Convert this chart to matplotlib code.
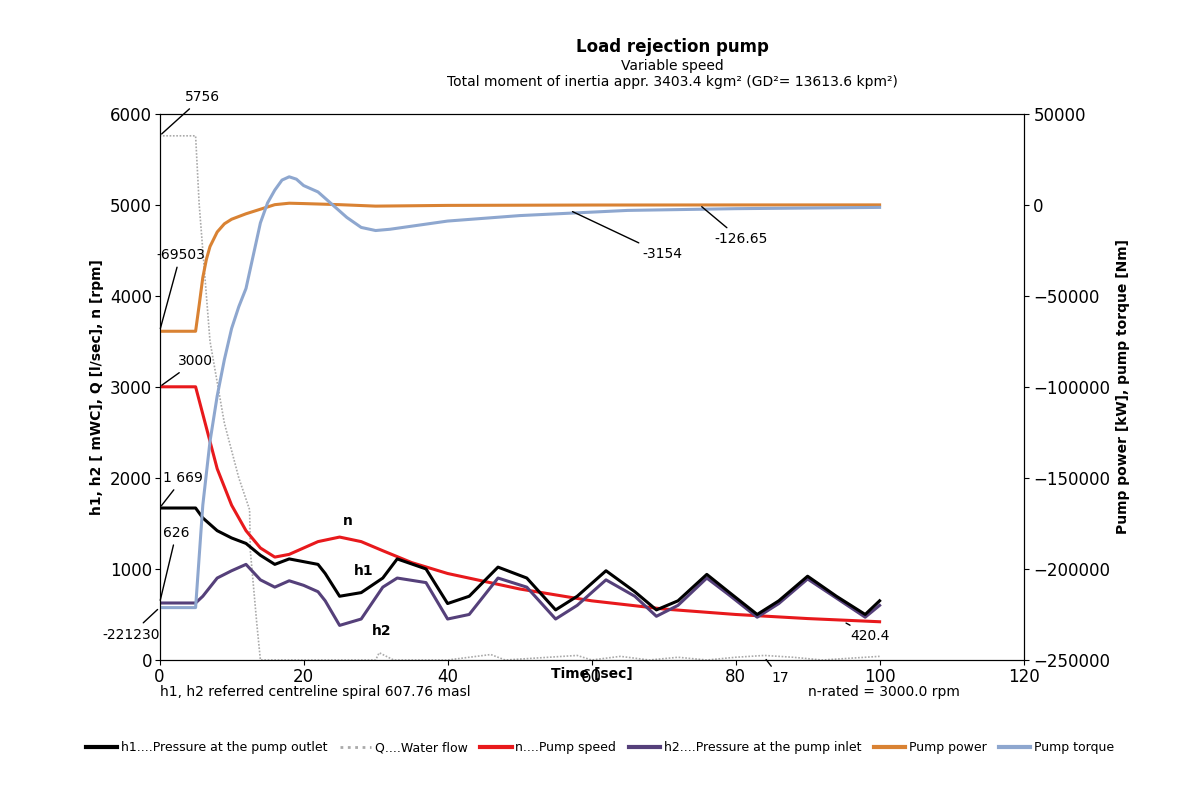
import matplotlib.pyplot as plt
from matplotlib.lines import Line2D

t_n = [0, 5, 6, 8, 10, 12, 14, 16, 18, 20, 22, 25, 28, 31, 35, 40, 50, 60, 70, 80, 90, 100]
n = [3000, 3000, 2700, 2100, 1700, 1420, 1230, 1130, 1160, 1230, 1300, 1350, 1300, 1200, 1070, 950, 780, 650, 560, 500, 455, 420]

t_h = [0, 5, 6, 8, 10, 12, 14, 16, 18, 20, 22, 23, 25, 28, 31, 33, 37, 40, 43, 47, 51, 55, 58, 62,
       66, 69, 72, 76, 79, 83, 86, 90, 94, 98, 100]
h1 = [1669, 1669, 1560, 1420, 1340, 1280, 1150, 1050, 1110, 1080, 1050, 950, 700, 740, 900, 1110, 1000, 620, 700,
      1020, 900, 550, 700, 980, 750, 550, 650, 940, 750, 500, 650, 920, 700, 500, 650]
h2 = [626, 626, 700, 900, 980, 1050, 880, 800, 870, 820, 750, 650, 380, 450, 800, 900, 850, 450, 500,
      900, 800, 450, 600, 880, 700, 480, 600, 900, 720, 470, 620, 890, 680, 470, 600]

t_q = [0, 5, 5.5, 7, 9, 11, 12.5, 12.6, 13.5, 14, 30, 30.5, 31.5, 32.5, 40, 44, 46, 48, 54, 58, 60, 64, 68,
       72, 76, 80, 84, 88, 92, 98, 100]
q = [5756, 5756, 5000, 3500, 2600, 2000, 1650, 1200, 400, 0, 0, 80, 40, 0, 0, 40, 60, 0, 30, 50, 0, 40, 0,
     30, 0, 30, 50, 30, 0, 30, 40]

t_p = [0, 5, 5.5, 6, 6.5, 7, 8, 9, 10, 12, 14, 16, 18, 20, 25, 30, 40, 60, 80, 100]
power = [-69503, -69503, -55000, -40000, -30000, -23000, -15000, -10500, -8000, -5000, -2500, 0, 800, 600, 0, -800, -400, -200, -150, -126.65]

t_m = [0, 5, 6, 7, 8, 9, 10, 11, 12, 13, 14, 15, 16, 17, 18, 19, 20, 22, 24, 26, 28, 30, 32, 40, 50, 65, 80, 100]
torque = [-221230, -221230, -165000, -130000, -105000, -85000, -68000, -56000, -46000, -28000, -10000, 1000,
          8000, 13500, 15300, 14000, 10500, 7000, 0, -7000, -12500, -14200, -13500, -9000, -6000, -3154, -2200, -1500]

fig, ax = plt.subplots(figsize=(12, 8), dpi=100)
fig.subplots_adjust(left=0.133, right=0.853, top=0.858, bottom=0.175)
ax2 = ax.twinx()

ax.plot(t_q, q, color='#aaaaaa', lw=1.2, ls=(0, (1, 1)))
ax.plot(t_n, n, color='#e8191c', lw=2.2)
ax.plot(t_h, h2, color='#55407a', lw=2.2)
ax.plot(t_h, h1, color='black', lw=2.2)
ax2.plot(t_p, power, color='#d98233', lw=2.2)
ax2.plot(t_m, torque, color='#8ea7cf', lw=2.2)

ax.set_xlim(0, 120)
ax.set_ylim(0, 6000)
ax2.set_ylim(-250000, 50000)
ax.set_xticks(range(0, 121, 20))
ax.set_yticks(range(0, 6001, 1000))
ax2.set_yticks(range(-250000, 50001, 50000))
ax.tick_params(labelsize=12, pad=2)
ax2.tick_params(labelsize=12)
ax.set_ylabel('h1, h2 [ mWC], Q [l/sec], n [rpm]', fontsize=10, fontweight='bold')
ax2.set_ylabel('Pump power [kW], pump torque [Nm]', fontsize=10, fontweight='bold')
ax.text(0.5, -0.012, 'Time [sec]', transform=ax.transAxes, ha='center', va='top', fontsize=10, fontweight='bold')

fig.text(0.56, 0.935, 'Load rejection pump', ha='center', fontsize=12, fontweight='bold')
fig.text(0.56, 0.912, 'Variable speed', ha='center', fontsize=10)
fig.text(0.56, 0.892, 'Total moment of inertia appr. 3403.4 kgm² (GD²= 13613.6 kpm²)', ha='center', fontsize=10)
ax.text(0, -0.065, 'h1, h2 referred centreline spiral 607.76 masl', transform=ax.transAxes, fontsize=10)
ax.text(0.75, -0.065, 'n-rated = 3000.0 rpm', transform=ax.transAxes, fontsize=10)

def ann(a, txt, xy, xyt):
    a.annotate(txt, xy=xy, xytext=xyt, fontsize=10, ha='left', va='center',
               arrowprops=dict(arrowstyle='-', color='black', lw=1))

ann(ax, '5756', (0, 5756), (3.5, 6180))
ann(ax2, '-69503', (0, -69503), (-0.5, -27500))
ann(ax, '3000', (0, 3000), (2.5, 3280))
ann(ax, '1 669', (0, 1669), (0.5, 2000))
ann(ax, '626', (0, 626), (0.5, 1400))
ann(ax2, '-221230', (0, -221230), (-8, -236000))
ann(ax2, '-3154', (57, -3154), (67, -27000))
ann(ax2, '-126.65', (75, -126.65), (77, -19000))
ann(ax, '420.4', (95, 420), (96, 260))
ann(ax, '17', (84, 30), (85, -200))
ax.text(25.5, 1480, 'n', fontsize=10, fontweight='bold')
ax.text(27, 930, 'h1', fontsize=10, fontweight='bold')
ax.text(29.5, 280, 'h2', fontsize=10, fontweight='bold')

handles = [Line2D([], [], color='black', lw=3), Line2D([], [], color='#aaaaaa', lw=2, ls=':'),
           Line2D([], [], color='#e8191c', lw=3), Line2D([], [], color='#55407a', lw=3),
           Line2D([], [], color='#d98233', lw=3), Line2D([], [], color='#8ea7cf', lw=3)]
labels = ['h1....Pressure at the pump outlet', 'Q....Water flow', 'n....Pump speed',
          'h2....Pressure at the pump inlet', 'Pump power', 'Pump torque']
fig.legend(handles, labels, loc='center', bbox_to_anchor=(0.5, 0.065), ncol=6, frameon=False,
           fontsize=9, handlelength=2.5, columnspacing=1.0, handletextpad=0.3)

fig.savefig('out.png')
